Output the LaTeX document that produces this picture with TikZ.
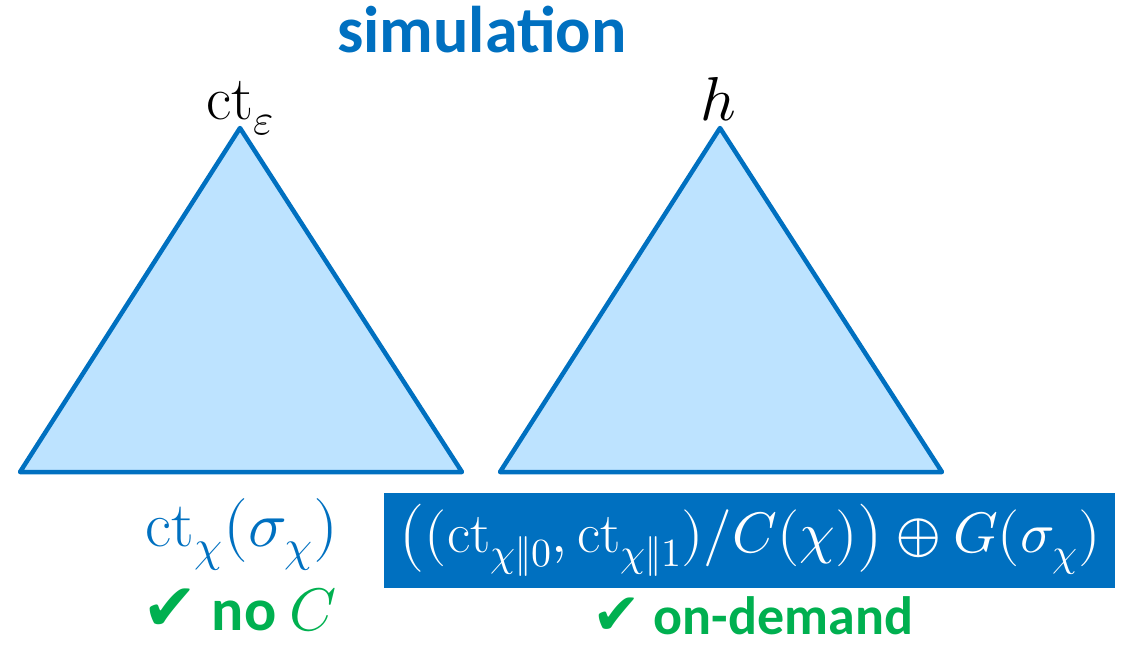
\documentclass[tikz,border=0pt]{standalone}
\usepackage{amsmath}
\usepackage{fontspec}
\usepackage{unicode-math}
\setmathfont{Latin Modern Math}
\newfontfamily\calibri{Carlito}
\newfontfamily\djv{DejaVu Sans}
\definecolor{myblue}{HTML}{0070C0}
\definecolor{myfill}{HTML}{BDE3FF}
\definecolor{mygreen}{HTML}{00B050}
\tikzset{
  tri/.style={draw=myblue, fill=myfill, line width=4.5pt, line join=round},
  titletext/.style={font=\calibri\bfseries\fontsize{66}{72}\selectfont, text=myblue, inner sep=0pt},
  mathlab/.style={font=\fontsize{62}{68}\selectfont, inner sep=0pt},
  greentext/.style={text=mygreen, inner sep=0pt, text depth=0pt},
  formbox/.style={fill=myblue, text=white, minimum width=731pt, minimum height=95pt, inner sep=0pt, font=\fontsize{57}{62}\selectfont},
}
\begin{document}
\begin{tikzpicture}[x=1pt,y=-1pt]
\useasboundingbox (0,0) rectangle (1122,649);
\coordinate (a1) at (240,128);
\coordinate (b1) at (462,472);
\coordinate (c1) at (20,472);
\coordinate (a2) at (720,128);
\coordinate (b2) at (942,472);
\coordinate (c2) at (500,472);
\draw[tri] (a1) -- (b1) -- (c1) -- cycle;
\draw[tri] (a2) -- (b2) -- (c2) -- cycle;
\node[titletext, anchor=base] (title) at (482,52) {simulation};
\node[mathlab, anchor=base] (lab1) at (240,119) {$\mathrm{ct}_{\varepsilon}$};
\node[mathlab, anchor=base] (lab2) at (718,120) {$h$};
\node[mathlab, anchor=base, text=myblue, font=\fontsize{64}{70}\selectfont] (leaf1) at (242,546) {$\mathrm{ct}_{\chi}(\sigma_{\chi})$};
\node[formbox] (box) at (749.5,540.5) {$\bigl((\mathrm{ct}_{\chi\Vert 0},\mathrm{ct}_{\chi\Vert 1})/C(\chi)\bigr)\oplus G(\sigma_{\chi})$};
\node[greentext, anchor=base, font=\calibri\bfseries\fontsize{60}{66}\selectfont] (ok1) at (240,630) {{\djv\fontsize{66}{70}\selectfont ✔} no \textcolor{mygreen}{$C$}};
\node[greentext, anchor=base, font=\calibri\bfseries\fontsize{54}{60}\selectfont] (ok2) at (753,634) {{\djv\fontsize{58}{62}\selectfont ✔} on-demand};
\end{tikzpicture}
\end{document}
